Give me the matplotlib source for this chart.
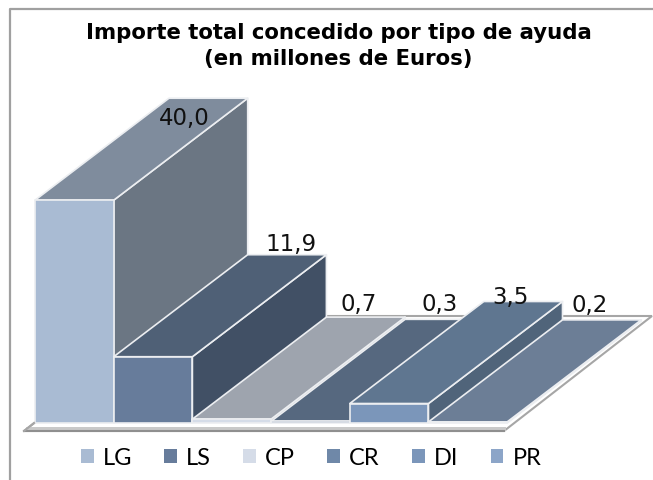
import matplotlib
matplotlib.use('Agg')
import matplotlib.pyplot as plt
from matplotlib.patches import Polygon, Patch, Rectangle

categories = ['LG', 'LS', 'CP', 'CR', 'DI', 'PR']
values = [40.0, 11.9, 0.7, 0.3, 3.5, 0.2]
labels = ['40,0', '11,9', '0,7', '0,3', '3,5', '0,2']
front_colors = ['#a9bbd3', '#677c9b', '#d5dce8', '#6f88a8', '#7b96ba', '#8ca5c8']
top_colors = ['#7f8c9d', '#4f6076', '#9ea4ae', '#56687f', '#5f7690', '#6c7e96']
side_colors = ['#6b7683', '#415065', '#b5bac2', '#4a5a70', '#50647a', '#5d6d82']

# label shift from the back middle of each bar top, in pixels
label_dx = [-24, 4, -7, -5, -13, -12]
label_dy = [-19, 11, 14, 16, 5, 15]

# pixels per data unit, the chart is an oblique projection
px_x = 78.7
px_y = 5.57
x0 = 35
y0 = 424
depth_x = 134 / px_x
depth_y = 102 / px_y


def face(ax, pts, color):
    ax.add_patch(Polygon(pts, closed=True, facecolor=color, edgecolor='#eceef1', linewidth=1.2, joinstyle='round'))


def draw_bar(ax, i, v):
    face(ax, [(i + 1, 0), (i + 1 + depth_x, depth_y), (i + 1 + depth_x, v + depth_y), (i + 1, v)], side_colors[i])
    face(ax, [(i, v), (i + 1, v), (i + 1 + depth_x, v + depth_y), (i + depth_x, v + depth_y)], top_colors[i])
    face(ax, [(i, 0), (i + 1, 0), (i + 1, v), (i, v)], front_colors[i])


def main():
    fig = plt.figure(figsize=(6.53, 4.81), dpi=100)
    ax = fig.add_axes([0, 0, 1, 1])
    ax.set_xlim(-x0 / px_x, (653 - x0) / px_x)
    ax.set_ylim(-(481 - y0) / px_y, y0 / px_y)
    ax.axis('off')

    # outer frame of the chart, cut off by the picture on the right and below
    fr = fig.transFigure
    ax.plot([10 / 653, 10 / 653, 1], [0, 471.5 / 481, 471.5 / 481], color='#a0a0a0', linewidth=1.6, transform=fr)

    # floor plate under the bars
    floor_l = -11 / px_x
    floor_r = 469 / px_x
    floor_b = -8 / px_y
    floor_dx = 148 / px_x
    floor_dy = 115 / px_y
    floor = [(floor_l, floor_b), (floor_r, floor_b), (floor_r + floor_dx, floor_b + floor_dy), (floor_l + floor_dx, floor_b + floor_dy)]
    ax.add_patch(Polygon(floor, closed=True, facecolor='white', edgecolor='#a6a6a6', linewidth=1.5))
    ax.add_patch(Rectangle((floor_l + 0.03, floor_b), floor_r - floor_l, 4.5 / px_y, facecolor='#c9c9c9', edgecolor='none'))
    ax.plot([floor_l, floor_r], [floor_b, floor_b], color='#8f8f8f', linewidth=1.5)
    ax.plot([floor_l, floor_l + 10 / px_x], [floor_b, floor_b + 8 / px_y], color='#a6a6a6', linewidth=1.5)

    for i, v in enumerate(values):
        draw_bar(ax, i, v)

    for i, v in enumerate(values):
        ax.text(i + depth_x + 0.5 + label_dx[i] / px_x, v + depth_y + label_dy[i] / px_y, labels[i], ha='center', va='center',
                fontsize=16.5, family='DejaVu Sans', color='#111111')

    ax.text(338.5 / 653, 1 - 33 / 481, 'Importe total concedido por tipo de ayuda', transform=fr, ha='center', va='center',
            fontsize=15.3, fontweight='bold', family='DejaVu Sans')
    ax.text(338.5 / 653, 1 - 59 / 481, '(en millones de Euros)', transform=fr, ha='center', va='center',
            fontsize=15.3, fontweight='bold', family='DejaVu Sans')

    handles = [Patch(facecolor=c, edgecolor='none') for c in front_colors]
    fig.legend(handles, categories, ncol=6, loc='center', bbox_to_anchor=(311 / 653, 1 - 459 / 481), frameon=False,
               prop={'family': 'Lato', 'size': 17}, handlelength=0.55, handleheight=0.55, handletextpad=0.38, columnspacing=1.36)

    fig.savefig('out.png', dpi=100)


if __name__ == "__main__":
    main()
